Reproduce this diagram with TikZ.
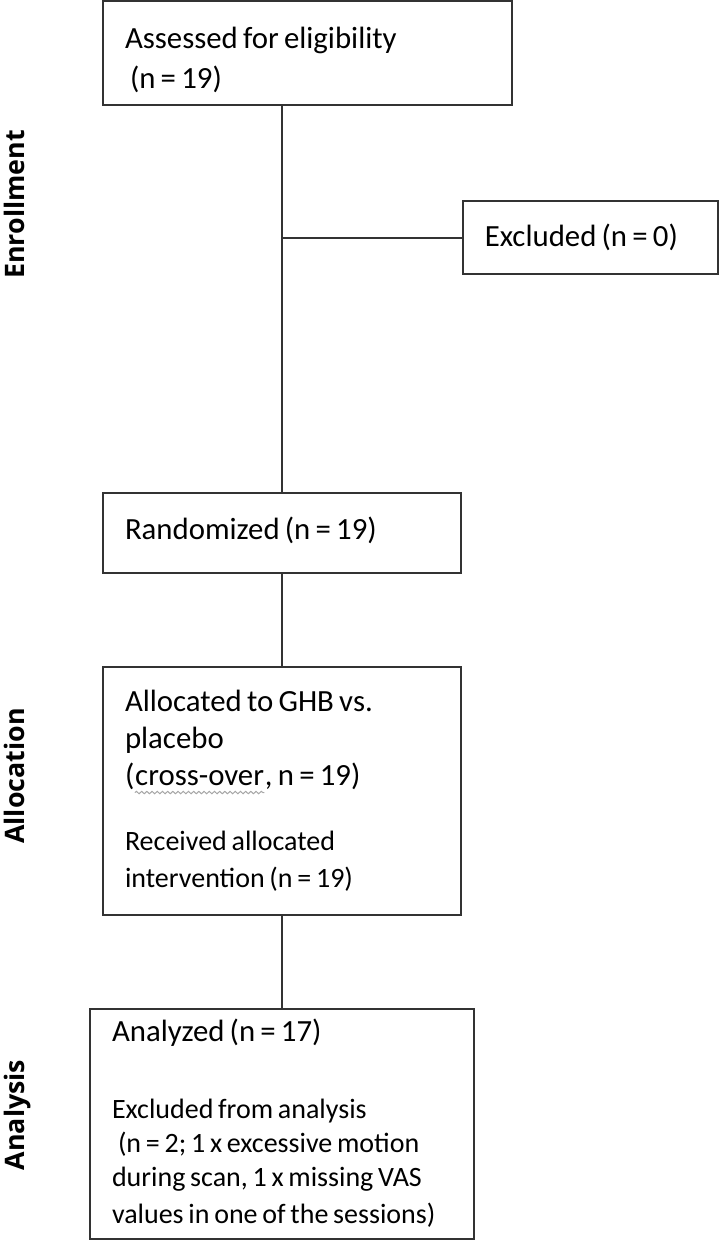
\documentclass[tikz,border=0pt]{standalone}
\usepackage{fontspec}
\usetikzlibrary{positioning, decorations.pathmorphing}
\setmainfont{Carlito}[WordSpace=0.75]
\newfontfamily\phasefont{Open Sans}
\newcommand\spellwave[1]{\tikz[baseline=(crossover.base)]{\node[inner sep=0pt, minimum size=0pt, text width=, align=none, draw=none] (crossover) {#1}; \draw[black!35, line width=0.5pt, decorate, decoration={snake, amplitude=0.6pt, segment length=2.6pt}] ([yshift=-3.5pt]crossover.base west) -- ([yshift=-3.5pt]crossover.base east);}}

\begin{document}
\begin{tikzpicture}
\tikzstyle{box}=[rectangle, draw=black!80, line width=0.9pt, align=left, inner xsep=11pt, inner ysep=4pt, font=\fontsize{15.4}{18.5}\selectfont, execute at begin node={\spaceskip=0pt\xspaceskip=0pt\hyphenpenalty=10000\relax}]
\tikzstyle{phase}=[rotate=90, anchor=base, font=\phasefont\bfseries\fontsize{13.4}{15}\selectfont]
\tikzstyle{connect}=[-, draw=black!80, line width=0.9pt]
\useasboundingbox (0,0) rectangle (360pt,-620pt);
\node[box, text width=157pt, minimum height=40pt] (rand) at (141pt,-266.5pt) {Randomized (n = 19)\\[-13.5pt]\mbox{}};
\node[box, text width=182.5pt, minimum height=52pt] (assess) [above=193pt of rand.north west, anchor=south west] {\mbox{}\\[-1.5pt]Assessed for eligibility\\[1.5pt]\hspace*{2.5pt}(n = 19)};
\node[box, text width=105.5pt, minimum height=36.5pt] (excl) [above=108.5pt of rand.north east, anchor=south west] {Excluded (n = 0)};
\node[box, text width=157pt, minimum height=124pt] (alloc) [below=46pt of rand] {Allocated to GHB vs.\\ placebo\\ (\spellwave{cross-over}, n = 19)\\[15.5pt] {\fontsize{14}{17}\selectfont Received allocated\\ intervention (n = 19)}};
\node[box, text width=170pt, minimum height=115pt] (anal) [below=46pt of alloc] {{\fontsize{15.4}{17}\selectfont Analyzed (n = 17)}\\[21.5pt] \fontsize{14}{17}\selectfont Excluded from analysis\\ \hspace*{3pt}(n = 2; 1 x excessive motion\\ during scan, 1 x missing VAS\\ values in one of the sessions)};
\node[phase] (enroll) at (12.5pt,-102.25pt) {Enrollment};
\node[phase] (allocation) at (12.5pt,-388pt) {Allocation};
\node[phase] (analysis) at (12.5pt,-557.5pt) {Analysis};
\coordinate (split) at (rand.north |- excl.west);
\draw[connect] (assess.south -| rand.north) -- (rand.north);
\path (split) edge [connect] (excl)
      (rand) edge [connect] (alloc)
      (alloc) edge [connect] (anal);
\end{tikzpicture}
\end{document}
